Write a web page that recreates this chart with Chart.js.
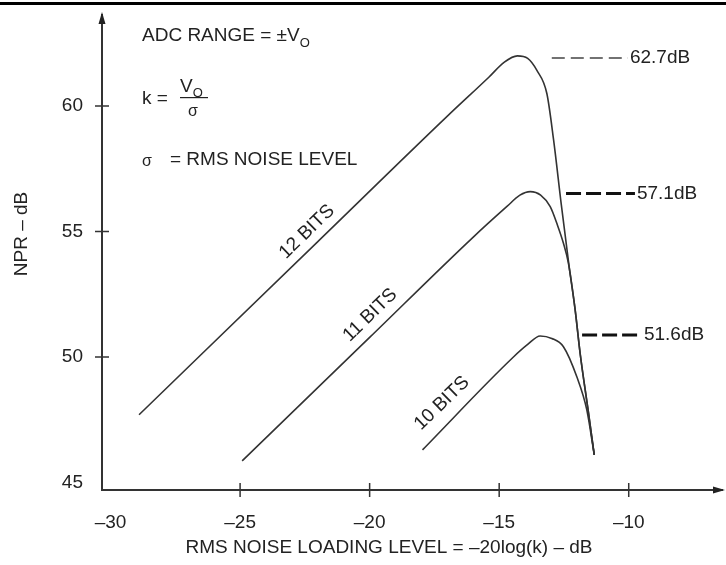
<!DOCTYPE html>
<html lang="en">
<head>
<meta charset="UTF-8">
<title>NPR vs RMS noise loading level</title>
<script src="https://cdn.jsdelivr.net/npm/chart.js"></script>
<style>
    body {
        margin: 0;
        background: #fff;
    }
    canvas {
        display: block;
    }
</style>
</head>
<body>
<canvas id="nprChart" width="726" height="565"></canvas>
<script>
// tick values
const xTicks = [-30, -25, -20, -15, -10];
const yTicks = [45, 50, 55, 60];

// 12 bit curve
const bits12X = [-28.9, -22.0, -17.0, -15.4, -14.8, -14.3, -13.9, -13.55, -13.16, -12.9, -12.6, -12.3, -12.07, -11.87, -11.57, -11.33];
const bits12Y = [47.7, 54.6, 59.6, 61.15, 61.75, 62.0, 61.9, 61.43, 60.5, 58.65, 56.05, 53.6, 51.9, 50.1, 47.9, 46.1];

// 11 bit curve
const bits11X = [-24.92, -20.0, -16.0, -14.7, -14.2, -13.8, -13.4, -13.03, -12.75, -12.52, -12.33, -12.07, -11.87, -11.57, -11.33];
const bits11Y = [45.86, 50.78, 54.78, 56.0, 56.45, 56.59, 56.45, 55.99, 55.25, 54.53, 53.75, 51.9, 50.1, 47.9, 46.1];

// 10 bit curve
const bits10X = [-17.96, -14.45, -13.9, -13.42, -12.97, -12.52, -12.0, -11.62, -11.33];
const bits10Y = [46.3, 50.0, 50.5, 50.84, 50.74, 50.41, 49.2, 47.9, 46.1];

const seriesNames = ['12 BITS', '11 BITS', '10 BITS'];

// peak NPR markers (dashed leaders + text)
const peakLabels = ['62.7dB', '57.1dB', '51.6dB'];
const peakLevels = [61.92, 56.52, 50.88];
const peakFrom = [-12.97, -12.42, -11.80];
const peakTo = [-10.03, -9.76, -9.49];

const xTitle = 'RMS NOISE LOADING LEVEL = \u201320log(k) \u2013 dB';
const yTitle = 'NPR \u2013 dB';

const FONT = '"Liberation Sans", Arial, Helvetica, sans-serif';
const INK = '#222';
const LINE = '#333';

function pts(xs, ys) {
    return xs.map((v, i) => ({x: v, y: ys[i]}));
}

function dash(v) {
    return (v < 0 ? '\u2013' : '') + Math.abs(v);
}

const curveStyle = {
    borderColor: LINE,
    borderWidth: 1.6,
    pointRadius: 0,
    fill: false,
    cubicInterpolationMode: 'monotone'
};

const datasets = [
    Object.assign({label: seriesNames[0], data: pts(bits12X, bits12Y)}, curveStyle),
    Object.assign({label: seriesNames[1], data: pts(bits11X, bits11Y)}, curveStyle),
    Object.assign({label: seriesNames[2], data: pts(bits10X, bits10Y)}, curveStyle)
];

// leader lines for the peak values
peakLabels.forEach((lbl, i) => {
    datasets.push({
        label: lbl,
        data: [{x: peakFrom[i], y: peakLevels[i]}, {x: peakTo[i], y: peakLevels[i]}],
        borderColor: i === 0 ? '#444' : '#111',
        borderWidth: i === 0 ? 1.5 : 3,
        borderDash: i === 0 ? [13, 6] : [15, 5],
        pointRadius: 0,
        fill: false
    });
});

// everything the library doesn't draw: arrows, crossing ticks, notes, titles
const overlay = {
    id: 'overlay',
    afterDraw(chart) {
        const {ctx, chartArea: a, scales: {x, y}} = chart;
        ctx.save();

        // heavy rule along the top
        ctx.fillStyle = '#000';
        ctx.fillRect(0, 2, chart.width, 3);

        // tick marks across the axes
        ctx.strokeStyle = LINE;
        ctx.lineWidth = 1.5;
        ctx.beginPath();
        xTicks.slice(1).forEach(v => {
            const px = x.getPixelForValue(v);
            ctx.moveTo(px, a.bottom - 7);
            ctx.lineTo(px, a.bottom + 7);
        });
        yTicks.slice(1).forEach(v => {
            const py = y.getPixelForValue(v);
            ctx.moveTo(a.left - 7, py);
            ctx.lineTo(a.left + 7, py);
        });
        ctx.stroke();

        // arrow heads
        ctx.fillStyle = INK;
        ctx.beginPath();
        ctx.moveTo(a.left, a.top - 3);
        ctx.lineTo(a.left - 3.5, a.top + 9);
        ctx.lineTo(a.left + 3.5, a.top + 9);
        ctx.closePath();
        ctx.fill();
        ctx.beginPath();
        ctx.moveTo(a.right + 3, a.bottom);
        ctx.lineTo(a.right - 9, a.bottom - 3.5);
        ctx.lineTo(a.right - 9, a.bottom + 3.5);
        ctx.closePath();
        ctx.fill();

        ctx.fillStyle = INK;
        ctx.textBaseline = 'middle';
        ctx.textAlign = 'left';
        const big = '19px ' + FONT;
        const sub = '13px ' + FONT;

        // notes, top left
        ctx.font = big;
        ctx.fillText('ADC RANGE = \u00b1V', 142, 36);
        let w = ctx.measureText('ADC RANGE = \u00b1V').width;
        ctx.font = sub;
        ctx.fillText('O', 142 + w, 43);

        ctx.font = big;
        ctx.fillText('k =', 142, 99);
        ctx.fillText('V', 180, 87);
        w = ctx.measureText('V').width;
        ctx.font = sub;
        ctx.fillText('O', 180 + w, 93);
        ctx.fillRect(180, 97, 28, 1.2);
        ctx.textAlign = 'center';
        ctx.font = '16px ' + FONT;
        ctx.fillText('\u03c3', 193, 112);

        ctx.textAlign = 'left';
        ctx.font = '16px ' + FONT;
        ctx.fillText('\u03c3', 142, 162);
        ctx.font = big;
        ctx.fillText('= RMS NOISE LEVEL', 170, 160);

        // peak values beside the dashed leaders
        peakLabels.forEach((lbl, i) => {
            ctx.fillText(lbl, x.getPixelForValue(peakTo[i]) + 2, y.getPixelForValue(peakLevels[i]));
        });

        // curve names along the rising lines
        const ang = Math.atan2(y.getPixelForValue(51) - y.getPixelForValue(50),
                               x.getPixelForValue(-19) - x.getPixelForValue(-20));
        const spots = [[-22.42, 54.99], [-19.98, 51.67], [-17.21, 48.16]];
        ctx.textAlign = 'center';
        ctx.font = big;
        seriesNames.forEach((name, i) => {
            ctx.save();
            ctx.translate(x.getPixelForValue(spots[i][0]), y.getPixelForValue(spots[i][1]));
            ctx.rotate(ang);
            ctx.fillText(name, 0, 0);
            ctx.restore();
        });

        // axis titles
        ctx.fillText(xTitle, 389, 548);
        ctx.save();
        ctx.translate(22, 234);
        ctx.rotate(-Math.PI / 2);
        ctx.fillText(yTitle, 0, 0);
        ctx.restore();

        ctx.restore();
    }
};

Chart.defaults.font.family = FONT;
Chart.defaults.font.size = 19;
Chart.defaults.color = INK;

new Chart(document.getElementById('nprChart'), {
    type: 'line',
    data: {datasets: datasets},
    options: {
        responsive: false,
        animation: false,
        layout: {padding: {top: 15, right: 4, left: 0, bottom: 0}},
        plugins: {
            legend: {display: false},
            tooltip: {enabled: false}
        },
        scales: {
            x: {
                type: 'linear',
                min: -30.33,
                max: -6.4,
                afterBuildTicks: s => { s.ticks = xTicks.map(v => ({value: v})); },
                afterFit: s => { s.height = 75; s.paddingLeft = 0; s.paddingRight = 0; },
                grid: {display: false, drawTicks: false},
                border: {display: true, color: LINE, width: 2},
                ticks: {padding: 21, maxRotation: 0, callback: v => dash(v)}
            },
            y: {
                type: 'linear',
                min: 44.7,
                max: 63.63,
                afterBuildTicks: s => { s.ticks = yTicks.map(v => ({value: v})); },
                afterFit: s => { s.width = 102; s.paddingTop = 0; s.paddingBottom = 0; },
                grid: {display: false, drawTicks: false},
                border: {display: true, color: LINE, width: 2},
                ticks: {padding: 19, callback: v => String(v)}
            }
        }
    },
    plugins: [overlay]
});
</script>
</body>
</html>
